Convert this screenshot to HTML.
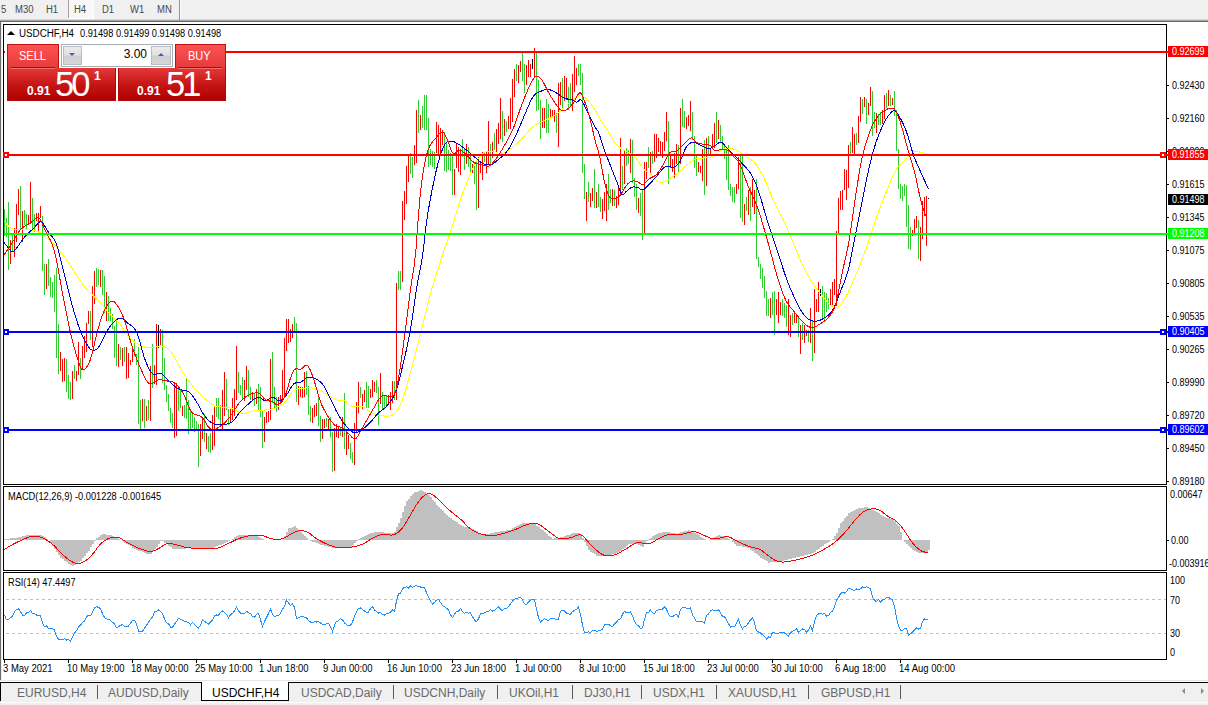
<!DOCTYPE html>
<html><head><meta charset="utf-8"><title>USDCHF,H4</title>
<style>
html,body{margin:0;padding:0;background:#fff;}
body{width:1208px;height:705px;overflow:hidden;position:relative;font-family:"Liberation Sans",sans-serif;}
.abs{position:absolute;}
.t{position:absolute;white-space:nowrap;line-height:1;color:#000;}
.ax{position:absolute;left:1172px;font-size:10px;white-space:nowrap;line-height:10px;height:10px;color:#000;transform:scaleX(0.9);transform-origin:0 50%;margin-top:1px;}
.tick{position:absolute;left:1167px;width:2px;height:1px;background:#000;}
.lab{position:absolute;left:1168px;width:40px;height:11px;color:#fff;white-space:nowrap;}
.lab span{position:absolute;left:4px;top:1px;font-size:10px;line-height:10px;transform:scaleX(0.9);transform-origin:0 50%;}
.hl{position:absolute;left:4px;width:1164px;height:2px;}
.sq{position:absolute;width:2px;height:2px;border-style:solid;border-width:2px;background:#fff;}
.tb{position:absolute;top:3.6px;font-size:10px;color:#484848;line-height:11px;white-space:nowrap;transform:scaleX(0.95);transform-origin:0 50%;}
.tab{position:absolute;top:686px;font-size:12px;color:#6a6a6a;line-height:14px;white-space:nowrap;letter-spacing:0;}
.sep{position:absolute;top:685px;width:1px;height:14px;background:#5a5a5a;}
.dt{position:absolute;top:664px;font-size:10px;line-height:10px;white-space:nowrap;color:#000;transform:scaleX(0.95);transform-origin:0 50%;}
.dtick{position:absolute;top:660px;width:1px;height:3px;background:#000;}
</style></head><body>

<!-- toolbar -->
<div class="abs" style="left:0;top:0;width:1208px;height:19px;background:#f0f0f0"></div>
<div class="abs" style="left:0;top:19px;width:1208px;height:1px;background:#dadada"></div>
<div class="abs" style="left:0;top:20px;width:1208px;height:1px;background:#a4a4a4"></div>
<div class="abs" style="left:0;top:21px;width:1208px;height:1px;background:#696969"></div>
<div class="abs" style="left:69px;top:0;width:25px;height:19px;background:#fff"></div><div class="abs" style="left:69px;top:0;width:24px;height:18px;background:repeating-conic-gradient(#fff 0 25%,#f0f0f0 0 50%) 0 0/2px 2px"></div>
<div class="abs" style="left:68px;top:0;width:1px;height:18px;background:#a0a0a0"></div>
<div class="abs" style="left:179px;top:0;width:1px;height:20px;background:#909090"></div>
<div class="abs" style="left:180px;top:0;width:1px;height:19px;background:#fff"></div>
<span class="tb" style="left:1px">5</span>
<span class="tb" style="left:15px">M30</span>
<span class="tb" style="left:46px">H1</span>
<span class="tb" style="left:74px">H4</span>
<span class="tb" style="left:102px">D1</span>
<span class="tb" style="left:130px">W1</span>
<span class="tb" style="left:157px">MN</span>

<!-- left strip -->
<div class="abs" style="left:0;top:22px;width:1px;height:658px;background:#6c6c6c"></div>
<div class="abs" style="left:1px;top:22px;width:1px;height:658px;background:#ececec"></div>

<!-- frames -->
<div class="abs" style="left:3px;top:24px;width:1162px;height:459px;border:1px solid #000"></div>
<div class="abs" style="left:3px;top:486px;width:1162px;height:83px;border:1px solid #000"></div>
<div class="abs" style="left:3px;top:572px;width:1162px;height:86px;border:1px solid #000"></div>

<!-- RSI dashed levels -->
<div class="abs" style="left:6px;top:599px;width:1160px;height:1px;background:repeating-linear-gradient(90deg,#c0c0c0 0,#c0c0c0 3px,transparent 3px,transparent 6px)"></div>
<div class="abs" style="left:6px;top:633px;width:1160px;height:1px;background:repeating-linear-gradient(90deg,#c0c0c0 0,#c0c0c0 3px,transparent 3px,transparent 6px)"></div>

<svg width="1208" height="705" viewBox="0 0 1208 705" style="position:absolute;left:0;top:0" shape-rendering="crispEdges">
<g>
<path fill="#ff0000" d="M10 240v24h1v-24zM14 228v29h1v-29zM16 204v38h1v-38zM18 189v26h1v-26zM22 211v31h1v-31zM28 215v8h1v-8zM30 182v42h1v-42zM36 213v8h1v-8zM38 213v22h1v-22zM40 206v12h1v-12zM46 264v25h1v-25zM60 352v19h1v-19zM62 359v23h1v-23zM64 358v23h1v-23zM72 371v28h1v-28zM76 371v10h1v-10zM78 342v33h1v-33zM82 346v24h1v-24zM84 336v22h1v-22zM86 323v29h1v-29zM88 311v13h1v-13zM92 286v61h1v-61zM94 271v33h1v-33zM100 270v17h1v-17zM106 292v29h1v-29zM118 344v23h1v-23zM122 348v18h1v-18zM126 347v32h1v-32zM128 353v25h1v-25zM130 360v5h1v-5zM132 349v13h1v-13zM142 399v22h1v-22zM146 406v15h1v-15zM150 366v55h1v-55zM154 365v19h1v-19zM156 324v61h1v-61zM160 329v17h1v-17zM174 383v55h1v-55zM176 383v53h1v-53zM182 406v10h1v-10zM200 424v32h1v-32zM202 418v21h1v-21zM206 433v16h1v-16zM212 415v35h1v-35zM214 405v41h1v-41zM222 390v40h1v-40zM224 372v44h1v-44zM230 408v15h1v-15zM232 398v22h1v-22zM234 389v27h1v-27zM236 346v54h1v-54zM244 380v21h1v-21zM246 366v24h1v-24zM252 392v9h1v-9zM256 389v15h1v-15zM264 417v25h1v-25zM266 412v11h1v-11zM268 411v11h1v-11zM270 359v61h1v-61zM278 397v13h1v-13zM280 395v9h1v-9zM282 370v32h1v-32zM284 338v59h1v-59zM286 319v32h1v-32zM288 319v24h1v-24zM290 329v13h1v-13zM292 324v14h1v-14zM298 386v19h1v-19zM300 387v10h1v-10zM302 387v11h1v-11zM304 372v25h1v-25zM312 408v15h1v-15zM314 405v12h1v-12zM316 403v13h1v-13zM322 419v20h1v-20zM324 419v9h1v-9zM328 419v12h1v-12zM334 428v43h1v-43zM336 424v13h1v-13zM338 426v12h1v-12zM342 417v20h1v-20zM346 432v23h1v-23zM348 435v14h1v-14zM354 423v42h1v-42zM356 402v31h1v-31zM358 382v31h1v-31zM362 394v15h1v-15zM364 390v12h1v-12zM370 389v9h1v-9zM372 380v17h1v-17zM374 382v10h1v-10zM380 373v31h1v-31zM388 395v9h1v-9zM390 392v18h1v-18zM392 381v22h1v-22zM396 283v117h1v-117zM402 201v81h1v-81zM404 191v29h1v-29zM406 166v38h1v-38zM408 154v28h1v-28zM414 145v20h1v-20zM416 110v53h1v-53zM420 115v15h1v-15zM436 122v31h1v-31zM438 125v29h1v-29zM440 128v27h1v-27zM442 130v15h1v-15zM454 169v26h1v-26zM456 144v24h1v-24zM458 147v25h1v-25zM460 149v26h1v-26zM466 144v20h1v-20zM472 164v9h1v-9zM478 157v51h1v-51zM480 163v10h1v-10zM482 152v28h1v-28zM486 152v21h1v-21zM488 121v44h1v-44zM492 142v16h1v-16zM496 129v23h1v-23zM498 123v21h1v-21zM500 98v41h1v-41zM504 119v17h1v-17zM508 116v13h1v-13zM510 98v31h1v-31zM512 79v43h1v-43zM514 69v28h1v-28zM518 65v18h1v-18zM520 61v11h1v-11zM526 65v20h1v-20zM528 60v17h1v-17zM530 64v13h1v-13zM534 48v29h1v-29zM542 108v20h1v-20zM544 108v20h1v-20zM550 109v10h1v-10zM552 110v8h1v-8zM554 110v12h1v-12zM558 83v64h1v-64zM560 82v23h1v-23zM564 76v25h1v-25zM566 78v22h1v-22zM572 74v37h1v-37zM574 56v36h1v-36zM576 68v17h1v-17zM586 192v29h1v-29zM590 193v14h1v-14zM592 188v13h1v-13zM596 192v16h1v-16zM602 199v20h1v-20zM604 192v19h1v-19zM606 184v37h1v-37zM612 189v17h1v-17zM616 196v12h1v-12zM618 185v20h1v-20zM620 138v56h1v-56zM624 151v33h1v-33zM630 139v34h1v-34zM638 198v15h1v-15zM644 162v72h1v-72zM646 162v17h1v-17zM650 152v21h1v-21zM654 134v28h1v-28zM656 134v24h1v-24zM658 138v14h1v-14zM660 141v14h1v-14zM662 142v16h1v-16zM664 132v19h1v-19zM666 112v29h1v-29zM670 155v13h1v-13zM672 159v13h1v-13zM674 153v25h1v-25zM676 144v20h1v-20zM680 108v56h1v-56zM686 117v12h1v-12zM688 115v11h1v-11zM690 101v30h1v-30zM698 162v10h1v-10zM700 166v7h1v-7zM702 149v32h1v-32zM706 138v48h1v-48zM710 149v6h1v-6zM712 134v15h1v-15zM714 123v25h1v-25zM718 120v19h1v-19zM736 184v10h1v-10zM738 157v32h1v-32zM744 204v21h1v-21zM748 190v25h1v-25zM752 179v28h1v-28zM754 190v24h1v-24zM770 298v20h1v-20zM776 299v16h1v-16zM778 292v31h1v-31zM780 302v13h1v-13zM788 299v36h1v-36zM790 315v22h1v-22zM794 312v11h1v-11zM796 315v8h1v-8zM800 325v29h1v-29zM804 325v18h1v-18zM806 330v6h1v-6zM810 308v35h1v-35zM814 289v64h1v-64zM816 299v13h1v-13zM818 282v30h1v-30zM830 289v16h1v-16zM832 282v23h1v-23zM834 279v16h1v-16zM836 231v75h1v-75zM838 198v36h1v-36zM840 191v19h1v-19zM842 190v20h1v-20zM844 169v21h1v-21zM846 170v30h1v-30zM848 145v43h1v-43zM852 127v26h1v-26zM854 134v20h1v-20zM858 116v27h1v-27zM860 97v25h1v-25zM864 97v10h1v-10zM868 103v12h1v-12zM870 87v19h1v-19zM876 113v20h1v-20zM882 110v14h1v-14zM884 95v24h1v-24zM888 90v16h1v-16zM892 98v7h1v-7zM912 230v6h1v-6zM914 219v16h1v-16zM916 216v12h1v-12zM920 227v34h1v-34zM922 201v38h1v-38zM924 197v19h1v-19zM926 196v50h1v-50z"/><path fill="#32cd32" d="M4 209v27h1v-27zM6 218v19h1v-19zM8 202v68h1v-68zM12 235v16h1v-16zM20 186v43h1v-43zM24 210v15h1v-15zM26 214v15h1v-15zM32 198v33h1v-33zM34 214v18h1v-18zM42 216v55h1v-55zM44 264v31h1v-31zM48 259v27h1v-27zM50 277v20h1v-20zM52 282v16h1v-16zM54 275v37h1v-37zM56 268v90h1v-90zM58 324v50h1v-50zM66 359v33h1v-33zM68 375v24h1v-24zM70 382v18h1v-18zM74 365v14h1v-14zM80 358v21h1v-21zM90 311v29h1v-29zM96 268v19h1v-19zM98 269v16h1v-16zM102 270v25h1v-25zM104 276v37h1v-37zM108 296v25h1v-25zM110 308v13h1v-13zM112 314v15h1v-15zM114 326v32h1v-32zM116 320v46h1v-46zM120 347v13h1v-13zM124 347v15h1v-15zM134 339v17h1v-17zM136 354v11h1v-11zM138 347v77h1v-77zM140 400v31h1v-31zM144 399v29h1v-29zM148 400v20h1v-20zM152 344v44h1v-44zM162 330v53h1v-53zM164 358v32h1v-32zM166 385v17h1v-17zM168 394v17h1v-17zM170 408v15h1v-15zM172 413v15h1v-15zM178 387v24h1v-24zM180 389v19h1v-19zM184 405v13h1v-13zM186 379v40h1v-40zM188 400v34h1v-34zM190 409v20h1v-20zM192 414v14h1v-14zM194 417v15h1v-15zM196 421v9h1v-9zM198 424v43h1v-43zM204 414v28h1v-28zM208 436v16h1v-16zM210 433v20h1v-20zM216 398v19h1v-19zM218 398v21h1v-21zM220 405v20h1v-20zM226 379v31h1v-31zM228 409v16h1v-16zM238 372v21h1v-21zM240 385v10h1v-10zM242 377v22h1v-22zM248 370v27h1v-27zM250 387v13h1v-13zM254 393v13h1v-13zM258 384v26h1v-26zM260 387v30h1v-30zM262 411v37h1v-37zM272 352v51h1v-51zM274 387v22h1v-22zM276 397v15h1v-15zM294 317v16h1v-16zM296 323v79h1v-79zM306 371v24h1v-24zM308 386v29h1v-29zM310 406v16h1v-16zM318 395v31h1v-31zM320 416v26h1v-26zM326 418v9h1v-9zM330 417v20h1v-20zM332 432v40h1v-40zM340 428v8h1v-8zM344 393v56h1v-56zM350 443v16h1v-16zM352 452v11h1v-11zM360 387v11h1v-11zM366 382v26h1v-26zM368 386v22h1v-22zM376 380v13h1v-13zM378 387v38h1v-38zM382 392v17h1v-17zM384 395v13h1v-13zM386 395v10h1v-10zM394 381v19h1v-19zM398 271v19h1v-19zM400 271v19h1v-19zM410 153v21h1v-21zM412 157v21h1v-21zM418 100v33h1v-33zM422 106v22h1v-22zM424 95v35h1v-35zM426 95v35h1v-35zM428 118v49h1v-49zM430 149v16h1v-16zM432 151v16h1v-16zM434 152v17h1v-17zM444 132v39h1v-39zM446 143v29h1v-29zM448 150v20h1v-20zM450 153v18h1v-18zM452 154v41h1v-41zM462 139v18h1v-18zM464 148v22h1v-22zM468 147v20h1v-20zM470 155v20h1v-20zM474 163v21h1v-21zM476 162v48h1v-48zM484 152v10h1v-10zM490 144v20h1v-20zM494 133v17h1v-17zM502 111v31h1v-31zM506 121v11h1v-11zM516 64v17h1v-17zM522 51v30h1v-30zM524 64v29h1v-29zM536 53v58h1v-58zM538 80v30h1v-30zM540 100v39h1v-39zM546 99v34h1v-34zM548 104v29h1v-29zM556 113v20h1v-20zM562 78v32h1v-32zM568 87v23h1v-23zM570 83v24h1v-24zM578 64v12h1v-12zM580 64v21h1v-21zM582 73v100h1v-100zM584 164v35h1v-35zM588 182v20h1v-20zM594 169v39h1v-39zM598 184v23h1v-23zM600 197v15h1v-15zM608 174v36h1v-36zM610 189v14h1v-14zM614 190v16h1v-16zM622 166v24h1v-24zM626 148v18h1v-18zM628 150v14h1v-14zM632 140v43h1v-43zM634 178v19h1v-19zM636 184v26h1v-26zM640 193v23h1v-23zM642 190v50h1v-50zM648 147v21h1v-21zM652 151v13h1v-13zM668 121v63h1v-63zM678 145v27h1v-27zM682 99v28h1v-28zM684 111v17h1v-17zM692 112v28h1v-28zM694 136v32h1v-32zM696 154v22h1v-22zM704 140v55h1v-55zM708 136v19h1v-19zM716 112v31h1v-31zM720 125v18h1v-18zM722 136v14h1v-14zM724 146v13h1v-13zM726 147v33h1v-33zM728 145v45h1v-45zM730 184v12h1v-12zM732 187v15h1v-15zM734 187v16h1v-16zM740 156v62h1v-62zM742 156v66h1v-66zM746 197v14h1v-14zM750 187v34h1v-34zM756 179v80h1v-80zM758 257v10h1v-10zM760 264v15h1v-15zM762 268v20h1v-20zM764 276v22h1v-22zM766 291v25h1v-25zM768 299v17h1v-17zM772 292v23h1v-23zM774 291v44h1v-44zM782 299v17h1v-17zM784 303v15h1v-15zM786 305v22h1v-22zM792 313v12h1v-12zM798 316v21h1v-21zM802 323v17h1v-17zM808 330v12h1v-12zM812 320v41h1v-41zM822 286v33h1v-33zM824 292v28h1v-28zM826 293v19h1v-19zM828 298v11h1v-11zM850 142v14h1v-14zM856 133v12h1v-12zM862 99v15h1v-15zM866 99v25h1v-25zM872 91v45h1v-45zM874 112v16h1v-16zM878 114v11h1v-11zM880 112v13h1v-13zM886 93v15h1v-15zM890 95v11h1v-11zM894 91v25h1v-25zM896 110v41h1v-41zM898 149v40h1v-40zM900 184v15h1v-15zM902 186v15h1v-15zM904 184v12h1v-12zM906 185v42h1v-42zM908 205v44h1v-44zM910 227v23h1v-23zM918 220v39h1v-39z"/><path fill="#000000" d="M158 325v23h1v-23zM532 59v10h1v-10zM820 289v7h1v-7zM928 198v1h1v-1z"/>
<polyline fill="none" stroke="#ffff00" stroke-width="1" points="4.0,221.0 6.0,223.5 8.0,225.6 10.0,227.5 12.0,228.8 14.0,229.4 16.0,229.6 18.0,229.8 20.0,229.8 22.0,229.8 24.0,229.7 26.0,229.7 28.0,229.7 30.0,229.9 32.0,230.1 34.0,230.5 36.0,231.0 38.0,231.7 40.0,232.7 42.0,234.0 44.0,235.4 46.0,237.0 48.0,238.6 50.0,240.4 52.0,242.4 54.0,244.4 56.0,246.5 58.0,248.8 60.0,251.3 62.0,253.8 64.0,256.5 66.0,259.2 68.0,262.0 70.0,264.9 72.0,267.9 74.0,271.0 76.0,274.2 78.0,277.3 80.0,280.4 82.0,283.3 84.0,286.1 86.0,288.6 88.0,290.8 90.0,292.8 92.0,294.7 94.0,296.5 96.0,298.3 98.0,300.3 100.0,302.4 102.0,304.8 104.0,307.2 106.0,309.6 108.0,311.9 110.0,314.1 112.0,316.0 114.0,317.9 116.0,319.8 118.0,321.9 120.0,324.2 122.0,327.0 124.0,330.0 126.0,332.9 128.0,335.6 130.0,338.0 132.0,339.9 134.0,341.6 136.0,343.0 138.0,344.2 140.0,345.2 142.0,346.1 144.0,346.7 146.0,347.2 148.0,347.5 150.0,347.7 152.0,347.6 154.0,347.2 156.0,346.7 158.0,346.2 160.0,345.9 162.0,346.0 164.0,346.6 166.0,347.5 168.0,348.9 170.0,350.8 172.0,353.4 174.0,356.5 176.0,360.0 178.0,363.8 180.0,367.5 182.0,371.1 184.0,374.3 186.0,377.3 188.0,380.1 190.0,382.8 192.0,385.3 194.0,387.7 196.0,390.0 198.0,392.0 200.0,394.0 202.0,396.0 204.0,397.8 206.0,399.6 208.0,401.2 210.0,402.8 212.0,404.3 214.0,405.7 216.0,406.7 218.0,407.0 220.0,406.9 222.0,407.0 224.0,407.2 226.0,407.4 228.0,407.6 230.0,408.0 232.0,408.5 234.0,409.4 236.0,410.5 238.0,411.8 240.0,412.8 242.0,413.5 244.0,413.6 246.0,413.2 248.0,412.5 250.0,411.8 252.0,411.2 254.0,410.8 256.0,410.7 258.0,410.6 260.0,410.5 262.0,410.4 264.0,410.2 266.0,409.9 268.0,409.6 270.0,409.3 272.0,408.9 274.0,408.4 276.0,407.8 278.0,407.0 280.0,405.9 282.0,404.6 284.0,402.9 286.0,400.9 288.0,398.2 290.0,395.0 292.0,392.1 294.0,390.4 296.0,389.4 298.0,388.8 300.0,388.4 302.0,388.2 304.0,388.1 306.0,388.0 308.0,387.9 310.0,387.9 312.0,388.0 314.0,388.3 316.0,388.7 318.0,389.4 320.0,390.4 322.0,391.6 324.0,392.8 326.0,394.1 328.0,395.2 330.0,396.4 332.0,397.5 334.0,398.7 336.0,399.6 338.0,400.3 340.0,400.4 342.0,400.4 344.0,400.7 346.0,401.6 348.0,403.2 350.0,404.9 352.0,406.0 354.0,406.4 356.0,406.4 358.0,406.2 360.0,406.2 362.0,406.5 364.0,407.4 366.0,408.8 368.0,410.4 370.0,411.9 372.0,413.2 374.0,414.1 376.0,414.7 378.0,415.2 380.0,415.6 382.0,415.9 384.0,416.0 386.0,416.0 388.0,416.1 390.0,415.9 392.0,415.3 394.0,414.0 396.0,412.0 398.0,409.2 400.0,405.5 402.0,400.7 404.0,394.9 406.0,388.5 408.0,381.5 410.0,374.3 412.0,367.0 414.0,359.3 416.0,351.3 418.0,343.2 420.0,335.2 422.0,327.2 424.0,319.0 426.0,310.9 428.0,302.9 430.0,295.4 432.0,288.4 434.0,281.7 436.0,275.2 438.0,268.9 440.0,262.7 442.0,256.5 444.0,250.4 446.0,244.6 448.0,238.8 450.0,233.0 452.0,227.0 454.0,220.7 456.0,214.2 458.0,207.7 460.0,201.4 462.0,195.4 464.0,189.9 466.0,184.6 468.0,179.6 470.0,174.7 472.0,169.9 474.0,165.5 476.0,162.0 478.0,159.2 480.0,156.6 482.0,154.4 484.0,152.7 486.0,151.5 488.0,151.0 490.0,151.1 492.0,151.3 494.0,151.6 496.0,152.1 498.0,152.9 500.0,153.4 502.0,153.5 504.0,153.0 506.0,152.0 508.0,150.7 510.0,149.3 512.0,147.8 514.0,146.1 516.0,144.4 518.0,142.6 520.0,140.7 522.0,138.7 524.0,136.5 526.0,134.1 528.0,131.7 530.0,129.4 532.0,127.4 534.0,125.8 536.0,124.5 538.0,123.6 540.0,122.8 542.0,122.0 544.0,121.1 546.0,120.1 548.0,119.2 550.0,118.3 552.0,117.3 554.0,116.2 556.0,114.9 558.0,113.3 560.0,111.5 562.0,109.6 564.0,107.7 566.0,105.9 568.0,104.1 570.0,102.3 572.0,100.5 574.0,98.8 576.0,97.3 578.0,96.2 580.0,95.7 582.0,95.9 584.0,96.8 586.0,98.4 588.0,100.4 590.0,102.9 592.0,105.6 594.0,108.5 596.0,111.6 598.0,115.0 600.0,118.7 602.0,122.1 604.0,125.2 606.0,128.1 608.0,131.1 610.0,134.4 612.0,138.1 614.0,141.6 616.0,144.2 618.0,146.1 620.0,147.6 622.0,149.0 624.0,150.1 626.0,150.9 628.0,151.8 630.0,153.1 632.0,154.4 634.0,156.1 636.0,158.1 638.0,160.9 640.0,164.1 642.0,167.1 644.0,169.4 646.0,171.3 648.0,173.0 650.0,174.6 652.0,176.3 654.0,178.1 656.0,180.0 658.0,181.6 660.0,182.7 662.0,183.0 664.0,182.2 666.0,180.8 668.0,179.5 670.0,178.3 672.0,177.2 674.0,175.9 676.0,174.5 678.0,173.0 680.0,171.2 682.0,169.4 684.0,167.6 686.0,165.8 688.0,164.1 690.0,162.4 692.0,160.8 694.0,159.4 696.0,158.6 698.0,158.2 700.0,158.1 702.0,158.1 704.0,158.0 706.0,157.9 708.0,157.9 710.0,157.6 712.0,156.7 714.0,155.2 716.0,153.5 718.0,152.2 720.0,151.0 722.0,149.9 724.0,149.1 726.0,148.6 728.0,148.4 730.0,148.5 732.0,148.8 734.0,149.2 736.0,149.9 738.0,150.8 740.0,152.1 742.0,153.7 744.0,155.4 746.0,156.8 748.0,157.9 750.0,159.0 752.0,160.3 754.0,162.1 756.0,164.6 758.0,167.4 760.0,170.7 762.0,174.3 764.0,178.2 766.0,182.5 768.0,187.3 770.0,192.4 772.0,197.4 774.0,202.0 776.0,206.1 778.0,210.0 780.0,213.7 782.0,217.5 784.0,221.6 786.0,226.0 788.0,230.6 790.0,235.3 792.0,240.0 794.0,244.7 796.0,249.5 798.0,254.4 800.0,259.2 802.0,263.8 804.0,268.0 806.0,271.9 808.0,275.5 810.0,278.9 812.0,282.1 814.0,285.1 816.0,287.9 818.0,290.4 820.0,292.9 822.0,295.4 824.0,297.9 826.0,300.5 828.0,303.1 830.0,305.2 832.0,306.6 834.0,307.5 836.0,307.7 838.0,306.9 840.0,305.2 842.0,302.9 844.0,300.0 846.0,296.6 848.0,292.7 850.0,288.3 852.0,283.6 854.0,278.9 856.0,274.4 858.0,270.0 860.0,264.8 862.0,259.6 864.0,254.2 866.0,248.8 868.0,243.1 870.0,237.3 872.0,231.3 874.0,225.2 876.0,219.2 878.0,213.4 880.0,207.9 882.0,202.7 884.0,197.6 886.0,192.6 888.0,187.8 890.0,182.9 892.0,178.2 894.0,173.8 896.0,170.0 898.0,167.1 900.0,164.8 902.0,162.9 904.0,160.9 906.0,158.8 908.0,156.7 910.0,154.8 912.0,153.1 914.0,151.7 916.0,151.0 918.0,151.3 920.0,152.3 922.0,152.9 924.0,153.0 926.0,153.0 927.0,153.0"/>
<polyline fill="none" stroke="#0000cd" stroke-width="1" points="4.0,242.5 6.0,245.0 8.0,247.6 10.0,249.9 12.0,251.7 14.0,251.1 16.0,248.8 18.0,246.2 20.0,243.3 22.0,240.5 24.0,237.8 26.0,235.4 28.0,233.4 30.0,231.5 32.0,229.8 34.0,228.0 36.0,225.7 38.0,223.2 40.0,221.7 42.0,222.3 44.0,224.7 46.0,228.0 48.0,231.5 50.0,234.3 52.0,236.5 54.0,239.0 56.0,243.0 58.0,249.1 60.0,256.7 62.0,264.8 64.0,272.6 66.0,280.8 68.0,289.1 70.0,297.2 72.0,304.6 74.0,311.6 76.0,318.3 78.0,324.4 80.0,330.0 82.0,334.9 84.0,339.2 86.0,342.9 88.0,346.2 90.0,348.8 92.0,350.1 94.0,350.4 96.0,349.7 98.0,347.9 100.0,344.9 102.0,341.3 104.0,337.3 106.0,333.3 108.0,329.6 110.0,326.6 112.0,324.0 114.0,321.8 116.0,320.0 118.0,318.6 120.0,318.2 122.0,318.6 124.0,319.7 126.0,321.4 128.0,323.3 130.0,324.7 132.0,326.1 134.0,327.9 136.0,330.8 138.0,335.6 140.0,342.2 142.0,349.6 144.0,356.6 146.0,362.3 148.0,366.8 150.0,370.4 152.0,373.1 154.0,374.5 156.0,374.4 158.0,373.6 160.0,373.2 162.0,374.1 164.0,375.7 166.0,377.8 168.0,380.0 170.0,382.1 172.0,383.9 174.0,385.6 176.0,387.3 178.0,388.6 180.0,389.5 182.0,390.0 184.0,390.2 186.0,390.6 188.0,391.4 190.0,392.8 192.0,395.1 194.0,398.0 196.0,401.1 198.0,404.3 200.0,408.1 202.0,411.8 204.0,415.0 206.0,417.6 208.0,419.8 210.0,421.7 212.0,423.0 214.0,423.9 216.0,424.4 218.0,424.6 220.0,424.7 222.0,424.6 224.0,424.5 226.0,424.3 228.0,423.9 230.0,423.2 232.0,422.0 234.0,420.1 236.0,417.4 238.0,414.5 240.0,412.0 242.0,409.9 244.0,408.0 246.0,406.1 248.0,404.4 250.0,402.6 252.0,400.8 254.0,399.1 256.0,397.8 258.0,397.0 260.0,397.5 262.0,399.0 264.0,400.4 266.0,400.8 268.0,399.6 270.0,397.9 272.0,397.0 274.0,397.7 276.0,399.2 278.0,400.5 280.0,400.8 282.0,399.8 284.0,398.0 286.0,395.7 288.0,392.7 290.0,389.2 292.0,385.9 294.0,383.7 296.0,382.7 298.0,382.5 300.0,382.3 302.0,381.4 304.0,379.9 306.0,378.2 308.0,377.1 310.0,377.1 312.0,377.4 314.0,378.0 316.0,378.8 318.0,380.0 320.0,381.5 322.0,383.3 324.0,386.2 326.0,390.0 328.0,394.2 330.0,398.2 332.0,402.2 334.0,406.3 336.0,410.4 338.0,414.2 340.0,417.6 342.0,420.7 344.0,423.4 346.0,425.9 348.0,428.2 350.0,430.2 352.0,431.8 354.0,432.8 356.0,432.8 358.0,432.1 360.0,431.0 362.0,429.7 364.0,428.1 366.0,426.5 368.0,424.7 370.0,422.7 372.0,420.4 374.0,418.0 376.0,415.6 378.0,413.5 380.0,411.7 382.0,410.2 384.0,408.7 386.0,406.8 388.0,404.5 390.0,402.0 392.0,399.2 394.0,395.7 396.0,391.1 398.0,384.7 400.0,376.9 402.0,368.6 404.0,360.3 406.0,351.6 408.0,342.3 410.0,332.0 412.0,319.8 414.0,306.0 416.0,292.3 418.0,280.3 420.0,270.2 422.0,259.5 424.0,244.5 426.0,226.1 428.0,212.3 430.0,200.8 432.0,190.5 434.0,180.7 436.0,171.6 438.0,163.4 440.0,156.4 442.0,150.5 444.0,145.8 446.0,142.7 448.0,141.3 450.0,141.0 452.0,141.1 454.0,141.8 456.0,142.8 458.0,144.0 460.0,145.2 462.0,146.6 464.0,148.0 466.0,149.5 468.0,151.1 470.0,152.9 472.0,154.7 474.0,156.4 476.0,158.2 478.0,160.1 480.0,161.7 482.0,163.0 484.0,163.9 486.0,164.6 488.0,165.0 490.0,164.9 492.0,164.3 494.0,163.1 496.0,161.5 498.0,159.8 500.0,158.2 502.0,156.6 504.0,154.8 506.0,152.7 508.0,150.0 510.0,146.8 512.0,143.1 514.0,139.2 516.0,135.0 518.0,130.6 520.0,125.9 522.0,121.1 524.0,116.4 526.0,111.7 528.0,107.0 530.0,102.4 532.0,98.4 534.0,95.4 536.0,93.5 538.0,92.5 540.0,91.6 542.0,90.8 544.0,90.1 546.0,89.7 548.0,89.6 550.0,89.8 552.0,90.5 554.0,91.5 556.0,92.6 558.0,93.9 560.0,95.4 562.0,96.9 564.0,98.0 566.0,98.7 568.0,99.1 570.0,99.3 572.0,99.8 574.0,100.7 576.0,102.1 578.0,101.8 580.0,99.5 582.0,100.8 584.0,104.5 586.0,108.9 588.0,113.0 590.0,117.1 592.0,121.2 594.0,125.1 596.0,128.5 598.0,131.1 600.0,136.5 602.0,142.9 604.0,149.0 606.0,154.4 608.0,159.5 610.0,164.5 612.0,169.6 614.0,174.7 616.0,179.7 618.0,184.8 620.0,190.5 622.0,194.4 624.0,194.0 626.0,191.7 628.0,190.1 630.0,188.4 632.0,187.1 634.0,186.8 636.0,187.1 638.0,187.6 640.0,188.8 642.0,189.9 644.0,189.3 646.0,187.6 648.0,185.5 650.0,183.5 652.0,181.4 654.0,179.2 656.0,177.0 658.0,174.6 660.0,172.0 662.0,169.6 664.0,167.7 666.0,166.6 668.0,166.5 670.0,166.9 672.0,167.2 674.0,167.1 676.0,166.2 678.0,164.3 680.0,161.5 682.0,157.0 684.0,151.7 686.0,147.6 688.0,145.0 690.0,143.2 692.0,142.2 694.0,142.0 696.0,142.8 698.0,144.0 700.0,145.0 702.0,146.0 704.0,147.1 706.0,148.0 708.0,148.5 710.0,148.4 712.0,147.4 714.0,146.2 716.0,144.9 718.0,143.3 720.0,142.1 722.0,142.5 724.0,144.6 726.0,147.2 728.0,149.3 730.0,151.2 732.0,153.1 734.0,155.0 736.0,157.0 738.0,159.0 740.0,161.1 742.0,163.4 744.0,165.5 746.0,167.6 748.0,169.8 750.0,172.5 752.0,175.7 754.0,179.6 756.0,184.2 758.0,189.6 760.0,195.8 762.0,202.5 764.0,209.5 766.0,216.4 768.0,222.9 770.0,229.0 772.0,235.0 774.0,240.9 776.0,246.8 778.0,252.8 780.0,259.0 782.0,265.3 784.0,271.5 786.0,277.3 788.0,282.6 790.0,287.6 792.0,292.3 794.0,296.8 796.0,301.0 798.0,305.0 800.0,308.7 802.0,312.0 804.0,314.8 806.0,317.1 808.0,318.8 810.0,320.0 812.0,320.8 814.0,321.1 816.0,321.1 818.0,320.8 820.0,320.2 822.0,319.3 824.0,318.2 826.0,317.0 828.0,315.5 830.0,313.6 832.0,311.1 834.0,307.7 836.0,303.3 838.0,298.1 840.0,292.6 842.0,287.5 844.0,282.7 846.0,277.4 848.0,271.1 850.0,262.6 852.0,252.2 854.0,241.7 856.0,231.7 858.0,221.7 860.0,211.7 862.0,201.7 864.0,191.7 866.0,181.8 868.0,172.7 870.0,164.0 872.0,155.9 874.0,148.7 876.0,142.4 878.0,136.8 880.0,131.8 882.0,127.1 884.0,122.9 886.0,119.3 888.0,116.3 890.0,113.7 892.0,111.5 894.0,110.5 896.0,111.3 898.0,114.1 900.0,117.7 902.0,121.5 904.0,125.6 906.0,130.5 908.0,136.3 910.0,143.3 912.0,150.5 914.0,156.6 916.0,161.6 918.0,166.2 920.0,170.5 922.0,174.9 924.0,179.4 926.0,183.7 928.0,188.1 928.4,189.0"/>
<polyline fill="none" stroke="#ff0000" stroke-width="1" points="4.0,255.0 6.0,252.0 8.0,249.0 10.0,246.1 12.0,243.0 14.0,239.7 16.0,236.2 18.0,232.8 20.0,230.1 22.0,228.1 24.0,226.5 26.0,225.4 28.0,224.3 30.0,223.2 32.0,221.7 34.0,219.9 36.0,218.3 38.0,217.5 40.0,218.7 42.0,223.0 44.0,228.0 46.0,232.0 48.0,235.7 50.0,239.5 52.0,244.1 54.0,250.0 56.0,257.9 58.0,268.1 60.0,279.5 62.0,290.8 64.0,301.0 66.0,311.2 68.0,321.2 70.0,330.5 72.0,339.0 74.0,346.7 76.0,353.6 78.0,359.9 80.0,365.7 82.0,369.6 84.0,369.7 86.0,368.0 88.0,365.2 90.0,360.6 92.0,353.9 94.0,345.7 96.0,337.1 98.0,329.1 100.0,322.3 102.0,316.3 104.0,311.2 106.0,307.1 108.0,303.9 110.0,301.8 112.0,301.0 114.0,301.7 116.0,303.7 118.0,306.4 120.0,309.8 122.0,314.0 124.0,319.1 126.0,325.1 128.0,332.1 130.0,339.4 132.0,346.1 134.0,351.8 136.0,357.1 138.0,362.2 140.0,367.0 142.0,371.6 144.0,375.9 146.0,379.9 148.0,382.7 150.0,383.9 152.0,383.7 154.0,382.5 156.0,381.0 158.0,380.0 160.0,379.9 162.0,380.0 164.0,380.3 166.0,380.7 168.0,381.1 170.0,381.5 172.0,381.8 174.0,382.3 176.0,384.0 178.0,386.2 180.0,388.7 182.0,391.5 184.0,394.9 186.0,399.4 188.0,404.7 190.0,409.5 192.0,412.6 194.0,414.1 196.0,414.8 198.0,415.2 200.0,415.9 202.0,417.3 204.0,419.9 206.0,423.2 208.0,426.4 210.0,428.7 212.0,430.0 214.0,429.7 216.0,428.9 218.0,427.8 220.0,426.5 222.0,425.0 224.0,423.3 226.0,421.4 228.0,419.2 230.0,416.7 232.0,413.9 234.0,410.8 236.0,407.7 238.0,404.6 240.0,402.0 242.0,399.8 244.0,398.1 246.0,396.7 248.0,395.6 250.0,394.6 252.0,393.7 254.0,393.1 256.0,392.8 258.0,393.0 260.0,394.2 262.0,396.2 264.0,398.4 266.0,399.9 268.0,400.7 270.0,401.1 272.0,401.6 274.0,402.6 276.0,404.3 278.0,404.7 280.0,403.5 282.0,401.5 284.0,398.4 286.0,393.6 288.0,386.7 290.0,379.6 292.0,374.0 294.0,370.1 296.0,368.6 298.0,368.9 300.0,369.5 302.0,368.8 304.0,366.5 306.0,364.9 308.0,365.9 310.0,369.5 312.0,374.5 314.0,380.1 316.0,386.8 318.0,393.8 320.0,400.2 322.0,405.4 324.0,409.5 326.0,413.2 328.0,416.5 330.0,419.4 332.0,422.0 334.0,424.4 336.0,426.2 338.0,426.8 340.0,427.0 342.0,427.7 344.0,429.3 346.0,431.3 348.0,433.3 350.0,435.2 352.0,437.4 354.0,439.0 356.0,438.6 358.0,436.0 360.0,432.3 362.0,428.6 364.0,425.1 366.0,421.6 368.0,418.1 370.0,414.6 372.0,411.1 374.0,407.7 376.0,404.1 378.0,400.6 380.0,397.7 382.0,395.8 384.0,395.3 386.0,395.6 388.0,396.3 390.0,396.8 392.0,396.5 394.0,395.0 396.0,390.1 398.0,381.2 400.0,369.4 402.0,355.5 404.0,340.3 406.0,325.0 408.0,309.4 410.0,293.6 412.0,279.3 414.0,267.2 416.0,249.5 418.0,221.3 420.0,196.7 422.0,179.9 424.0,166.9 426.0,156.9 428.0,150.3 430.0,145.5 432.0,142.4 434.0,140.1 436.0,137.8 438.0,135.3 440.0,133.2 442.0,132.1 444.0,133.1 446.0,136.9 448.0,141.4 450.0,147.2 452.0,152.3 454.0,154.1 456.0,152.7 458.0,150.6 460.0,150.1 462.0,151.1 464.0,152.7 466.0,154.5 468.0,156.4 470.0,158.6 472.0,160.8 474.0,162.3 476.0,163.2 478.0,163.9 480.0,164.3 482.0,164.8 484.0,165.5 486.0,166.1 488.0,166.3 490.0,165.5 492.0,163.8 494.0,161.6 496.0,159.0 498.0,156.2 500.0,153.0 502.0,149.7 504.0,146.2 506.0,142.7 508.0,139.2 510.0,135.4 512.0,131.3 514.0,126.5 516.0,121.1 518.0,115.4 520.0,109.6 522.0,104.2 524.0,99.1 526.0,94.1 528.0,89.3 530.0,85.0 532.0,81.1 534.0,77.8 536.0,76.0 538.0,76.1 540.0,77.7 542.0,80.3 544.0,83.6 546.0,87.4 548.0,91.4 550.0,95.0 552.0,98.3 554.0,101.6 556.0,104.6 558.0,107.3 560.0,109.5 562.0,110.8 564.0,111.0 566.0,110.1 568.0,108.7 570.0,106.8 572.0,104.7 574.0,102.1 576.0,98.2 578.0,94.6 580.0,92.5 582.0,94.6 584.0,99.6 586.0,105.2 588.0,111.6 590.0,118.7 592.0,127.1 594.0,135.9 596.0,143.6 598.0,150.1 600.0,158.1 602.0,169.2 604.0,179.7 606.0,187.9 608.0,194.2 610.0,197.4 612.0,198.4 614.0,198.5 616.0,198.2 618.0,197.2 620.0,195.5 622.0,192.7 624.0,189.3 626.0,186.0 628.0,183.7 630.0,182.1 632.0,181.1 634.0,180.9 636.0,181.3 638.0,182.0 640.0,183.5 642.0,184.9 644.0,184.2 646.0,182.2 648.0,179.9 650.0,178.2 652.0,177.2 654.0,176.4 656.0,175.0 658.0,172.6 660.0,169.7 662.0,166.5 664.0,163.1 666.0,159.1 668.0,155.3 670.0,152.4 672.0,151.3 674.0,151.4 676.0,151.3 678.0,150.1 680.0,148.1 682.0,146.0 684.0,144.0 686.0,142.0 688.0,139.9 690.0,138.3 692.0,137.7 694.0,139.8 696.0,142.0 698.0,142.9 700.0,143.5 702.0,144.0 704.0,144.5 706.0,144.7 708.0,144.8 710.0,145.3 712.0,147.1 714.0,150.2 716.0,151.1 718.0,150.5 720.0,149.5 722.0,149.0 724.0,149.1 726.0,149.5 728.0,150.4 730.0,151.8 732.0,154.1 734.0,156.7 736.0,159.1 738.0,161.3 740.0,164.5 742.0,169.3 744.0,174.8 746.0,180.4 748.0,185.7 750.0,190.4 752.0,194.7 754.0,199.1 756.0,203.8 758.0,209.1 760.0,215.1 762.0,221.6 764.0,228.4 766.0,235.4 768.0,242.4 770.0,249.8 772.0,257.4 774.0,265.0 776.0,272.2 778.0,279.0 780.0,285.2 782.0,291.1 784.0,296.3 786.0,300.7 788.0,304.1 790.0,306.7 792.0,309.0 794.0,311.4 796.0,314.0 798.0,316.5 800.0,319.0 802.0,321.2 804.0,323.2 806.0,324.9 808.0,326.3 810.0,327.2 812.0,327.6 814.0,327.3 816.0,326.4 818.0,325.2 820.0,323.9 822.0,322.6 824.0,321.3 826.0,319.8 828.0,317.9 830.0,315.5 832.0,312.6 834.0,308.7 836.0,303.0 838.0,294.6 840.0,284.4 842.0,273.9 844.0,264.6 846.0,256.0 848.0,246.6 850.0,234.9 852.0,221.2 854.0,206.8 856.0,193.4 858.0,180.6 860.0,168.4 862.0,158.0 864.0,149.7 866.0,142.8 868.0,136.8 870.0,131.3 872.0,126.3 874.0,122.1 876.0,118.7 878.0,116.1 880.0,114.0 882.0,112.4 884.0,111.0 886.0,109.8 888.0,108.8 890.0,108.2 892.0,108.0 894.0,108.6 896.0,111.0 898.0,115.6 900.0,121.3 902.0,127.8 904.0,135.0 906.0,142.6 908.0,150.0 910.0,156.8 912.0,163.3 914.0,170.2 916.0,178.2 918.0,187.7 920.0,197.3 922.0,205.4 924.0,211.3 926.0,216.2 926.5,217.5"/>
</g>
<g><path fill="#c0c0c0" d="M4 539h2v1h-2zM6 539h2v1h-2zM8 539h2v1h-2zM10 538h2v2h-2zM12 538h2v2h-2zM14 538h2v2h-2zM16 538h2v2h-2zM18 537h2v3h-2zM20 537h2v3h-2zM22 536h2v4h-2zM24 536h2v4h-2zM26 535h2v5h-2zM28 535h2v5h-2zM30 535h2v5h-2zM32 535h2v5h-2zM34 535h2v5h-2zM36 535h2v5h-2zM38 535h2v5h-2zM40 535h2v5h-2zM42 536h2v4h-2zM44 537h2v3h-2zM46 539h2v1h-2zM50 540h2v3h-2zM52 540h2v6h-2zM54 540h2v9h-2zM56 540h2v12h-2zM58 540h2v15h-2zM60 540h2v18h-2zM62 540h2v19h-2zM64 540h2v21h-2zM66 540h2v22h-2zM68 540h2v24h-2zM70 540h2v25h-2zM72 540h2v26h-2zM74 540h2v25h-2zM76 540h2v23h-2zM78 540h2v22h-2zM80 540h2v21h-2zM82 540h2v18h-2zM84 540h2v16h-2zM86 540h2v13h-2zM88 540h2v11h-2zM90 540h2v7h-2zM92 540h2v4h-2zM94 540h2v1h-2zM96 538h2v2h-2zM98 537h2v3h-2zM100 535h2v5h-2zM102 534h2v6h-2zM104 534h2v6h-2zM106 535h2v5h-2zM108 535h2v5h-2zM110 535h2v5h-2zM112 536h2v4h-2zM114 537h2v3h-2zM116 538h2v2h-2zM118 539h2v1h-2zM122 540h2v1h-2zM124 540h2v3h-2zM126 540h2v4h-2zM128 540h2v5h-2zM130 540h2v6h-2zM132 540h2v8h-2zM134 540h2v9h-2zM136 540h2v10h-2zM138 540h2v11h-2zM140 540h2v11h-2zM142 540h2v12h-2zM144 540h2v13h-2zM146 540h2v14h-2zM148 540h2v14h-2zM150 540h2v14h-2zM152 540h2v11h-2zM154 540h2v9h-2zM156 540h2v7h-2zM158 540h2v4h-2zM160 540h2v1h-2zM162 540h2v1h-2zM164 540h2v3h-2zM166 540h2v4h-2zM168 540h2v6h-2zM170 540h2v7h-2zM172 540h2v9h-2zM174 540h2v9h-2zM176 540h2v9h-2zM178 540h2v9h-2zM180 540h2v9h-2zM182 540h2v9h-2zM184 540h2v9h-2zM186 540h2v8h-2zM188 540h2v8h-2zM190 540h2v8h-2zM192 540h2v8h-2zM194 540h2v8h-2zM196 540h2v8h-2zM198 540h2v8h-2zM200 540h2v8h-2zM202 540h2v8h-2zM204 540h2v8h-2zM206 540h2v8h-2zM208 540h2v8h-2zM210 540h2v8h-2zM212 540h2v8h-2zM214 540h2v7h-2zM216 540h2v6h-2zM218 540h2v5h-2zM220 540h2v5h-2zM222 540h2v4h-2zM224 540h2v3h-2zM226 540h2v2h-2zM228 540h2v1h-2zM232 539h2v1h-2zM234 537h2v3h-2zM236 536h2v4h-2zM238 535h2v5h-2zM240 535h2v5h-2zM242 535h2v5h-2zM244 535h2v5h-2zM246 535h2v5h-2zM248 535h2v5h-2zM250 535h2v5h-2zM252 535h2v5h-2zM254 535h2v5h-2zM256 536h2v4h-2zM258 537h2v3h-2zM260 538h2v2h-2zM262 539h2v1h-2zM284 536h2v4h-2zM286 532h2v8h-2zM288 528h2v12h-2zM290 528h2v12h-2zM292 527h2v13h-2zM294 526h2v14h-2zM296 528h2v12h-2zM298 530h2v10h-2zM300 532h2v8h-2zM302 534h2v6h-2zM304 536h2v4h-2zM306 538h2v2h-2zM310 540h2v1h-2zM312 540h2v2h-2zM314 540h2v2h-2zM316 540h2v3h-2zM318 540h2v4h-2zM320 540h2v5h-2zM322 540h2v5h-2zM324 540h2v6h-2zM326 540h2v6h-2zM328 540h2v7h-2zM330 540h2v7h-2zM332 540h2v8h-2zM334 540h2v8h-2zM336 540h2v8h-2zM338 540h2v8h-2zM340 540h2v8h-2zM342 540h2v8h-2zM344 540h2v8h-2zM346 540h2v8h-2zM348 540h2v8h-2zM350 540h2v7h-2zM352 540h2v5h-2zM354 540h2v3h-2zM356 540h2v1h-2zM358 539h2v1h-2zM360 538h2v2h-2zM362 537h2v3h-2zM364 536h2v4h-2zM366 535h2v5h-2zM368 534h2v6h-2zM370 533h2v7h-2zM372 533h2v7h-2zM374 532h2v8h-2zM376 532h2v8h-2zM378 532h2v8h-2zM380 532h2v8h-2zM382 532h2v8h-2zM384 533h2v7h-2zM386 533h2v7h-2zM388 533h2v7h-2zM390 533h2v7h-2zM392 533h2v7h-2zM394 532h2v8h-2zM396 527h2v13h-2zM398 523h2v17h-2zM400 518h2v22h-2zM402 512h2v28h-2zM404 506h2v34h-2zM406 501h2v39h-2zM408 499h2v41h-2zM410 496h2v44h-2zM412 494h2v46h-2zM414 492h2v48h-2zM416 492h2v48h-2zM418 491h2v49h-2zM420 490h2v50h-2zM422 491h2v49h-2zM424 492h2v48h-2zM426 494h2v46h-2zM428 495h2v45h-2zM430 497h2v43h-2zM432 500h2v40h-2zM434 502h2v38h-2zM436 505h2v35h-2zM438 507h2v33h-2zM440 509h2v31h-2zM442 511h2v29h-2zM444 513h2v27h-2zM446 515h2v25h-2zM448 517h2v23h-2zM450 518h2v22h-2zM452 520h2v20h-2zM454 521h2v19h-2zM456 522h2v18h-2zM458 524h2v16h-2zM460 525h2v15h-2zM462 526h2v14h-2zM464 527h2v13h-2zM466 527h2v13h-2zM468 528h2v12h-2zM470 529h2v11h-2zM472 529h2v11h-2zM474 530h2v10h-2zM476 531h2v9h-2zM478 533h2v7h-2zM480 534h2v6h-2zM482 535h2v5h-2zM484 534h2v6h-2zM486 534h2v6h-2zM488 534h2v6h-2zM490 533h2v7h-2zM492 533h2v7h-2zM494 532h2v8h-2zM496 532h2v8h-2zM498 532h2v8h-2zM500 531h2v9h-2zM502 531h2v9h-2zM504 531h2v9h-2zM506 530h2v10h-2zM508 530h2v10h-2zM510 530h2v10h-2zM512 528h2v12h-2zM514 527h2v13h-2zM516 526h2v14h-2zM518 525h2v15h-2zM520 524h2v16h-2zM522 523h2v17h-2zM524 523h2v17h-2zM526 523h2v17h-2zM528 523h2v17h-2zM530 523h2v17h-2zM532 524h2v16h-2zM534 524h2v16h-2zM536 526h2v14h-2zM538 527h2v13h-2zM540 529h2v11h-2zM542 530h2v10h-2zM544 532h2v8h-2zM546 534h2v6h-2zM548 536h2v4h-2zM550 537h2v3h-2zM552 539h2v1h-2zM554 538h2v2h-2zM556 538h2v2h-2zM558 538h2v2h-2zM560 537h2v3h-2zM562 537h2v3h-2zM564 536h2v4h-2zM566 535h2v5h-2zM568 535h2v5h-2zM570 534h2v6h-2zM572 533h2v7h-2zM574 533h2v7h-2zM576 533h2v7h-2zM578 533h2v7h-2zM580 534h2v6h-2zM582 538h2v2h-2zM584 540h2v2h-2zM586 540h2v6h-2zM588 540h2v10h-2zM590 540h2v12h-2zM592 540h2v13h-2zM594 540h2v14h-2zM596 540h2v16h-2zM598 540h2v16h-2zM600 540h2v16h-2zM602 540h2v16h-2zM604 540h2v16h-2zM606 540h2v16h-2zM608 540h2v16h-2zM610 540h2v15h-2zM612 540h2v14h-2zM614 540h2v14h-2zM616 540h2v13h-2zM618 540h2v12h-2zM620 540h2v11h-2zM622 540h2v9h-2zM624 540h2v8h-2zM626 540h2v6h-2zM628 540h2v4h-2zM630 540h2v4h-2zM632 540h2v4h-2zM634 540h2v4h-2zM636 540h2v4h-2zM638 540h2v5h-2zM640 540h2v6h-2zM642 540h2v7h-2zM644 540h2v4h-2zM646 540h2v1h-2zM648 539h2v1h-2zM650 538h2v2h-2zM652 536h2v4h-2zM654 535h2v5h-2zM656 534h2v6h-2zM658 533h2v7h-2zM660 533h2v7h-2zM662 532h2v8h-2zM664 532h2v8h-2zM666 532h2v8h-2zM668 532h2v8h-2zM670 533h2v7h-2zM672 533h2v7h-2zM674 533h2v7h-2zM676 534h2v6h-2zM678 533h2v7h-2zM680 532h2v8h-2zM682 532h2v8h-2zM684 531h2v9h-2zM686 531h2v9h-2zM688 530h2v10h-2zM690 531h2v9h-2zM692 532h2v8h-2zM694 533h2v7h-2zM696 534h2v6h-2zM698 535h2v5h-2zM700 537h2v3h-2zM702 538h2v2h-2zM704 539h2v1h-2zM710 539h2v1h-2zM712 538h2v2h-2zM714 537h2v3h-2zM716 536h2v4h-2zM718 535h2v5h-2zM720 536h2v4h-2zM722 536h2v4h-2zM724 537h2v3h-2zM726 538h2v2h-2zM728 539h2v1h-2zM732 540h2v2h-2zM734 540h2v4h-2zM736 540h2v6h-2zM738 540h2v6h-2zM740 540h2v6h-2zM742 540h2v7h-2zM744 540h2v7h-2zM746 540h2v8h-2zM748 540h2v8h-2zM750 540h2v10h-2zM752 540h2v11h-2zM754 540h2v13h-2zM756 540h2v14h-2zM758 540h2v16h-2zM760 540h2v18h-2zM762 540h2v19h-2zM764 540h2v20h-2zM766 540h2v21h-2zM768 540h2v23h-2zM770 540h2v22h-2zM772 540h2v22h-2zM774 540h2v22h-2zM776 540h2v22h-2zM778 540h2v22h-2zM780 540h2v22h-2zM782 540h2v21h-2zM784 540h2v20h-2zM786 540h2v20h-2zM788 540h2v19h-2zM790 540h2v19h-2zM792 540h2v18h-2zM794 540h2v18h-2zM796 540h2v17h-2zM798 540h2v17h-2zM800 540h2v16h-2zM802 540h2v16h-2zM804 540h2v15h-2zM806 540h2v15h-2zM808 540h2v14h-2zM810 540h2v14h-2zM812 540h2v13h-2zM814 540h2v12h-2zM816 540h2v10h-2zM818 540h2v9h-2zM820 540h2v7h-2zM822 540h2v6h-2zM824 540h2v4h-2zM826 540h2v3h-2zM828 540h2v2h-2zM832 539h2v1h-2zM834 536h2v4h-2zM836 533h2v7h-2zM838 528h2v12h-2zM840 523h2v17h-2zM842 521h2v19h-2zM844 518h2v22h-2zM846 516h2v24h-2zM848 513h2v27h-2zM850 512h2v28h-2zM852 511h2v29h-2zM854 510h2v30h-2zM856 509h2v31h-2zM858 508h2v32h-2zM860 508h2v32h-2zM862 508h2v32h-2zM864 507h2v33h-2zM866 507h2v33h-2zM868 508h2v32h-2zM870 509h2v31h-2zM872 510h2v30h-2zM874 511h2v29h-2zM876 512h2v28h-2zM878 513h2v27h-2zM880 515h2v25h-2zM882 516h2v24h-2zM884 517h2v23h-2zM886 518h2v22h-2zM888 518h2v22h-2zM890 519h2v21h-2zM892 519h2v21h-2zM894 521h2v19h-2zM896 524h2v16h-2zM898 526h2v14h-2zM900 532h2v8h-2zM904 540h2v2h-2zM906 540h2v4h-2zM908 540h2v6h-2zM910 540h2v8h-2zM912 540h2v10h-2zM914 540h2v11h-2zM916 540h2v12h-2zM918 540h2v13h-2zM920 540h2v13h-2zM922 540h2v13h-2zM924 540h2v13h-2zM926 540h2v12h-2zM928 540h2v10h-2z"/><polyline fill="none" stroke="#ff0000" stroke-width="1" points="4.0,549.5 6.0,548.4 8.0,547.2 10.0,546.0 12.0,544.9 14.0,543.8 16.0,542.8 18.0,541.8 20.0,540.9 22.0,539.9 24.0,539.0 26.0,538.2 28.0,537.4 30.0,536.8 32.0,536.4 34.0,536.1 36.0,536.2 38.0,536.5 40.0,537.0 42.0,537.7 44.0,538.6 46.0,539.6 48.0,540.9 50.0,542.3 52.0,543.8 54.0,545.7 56.0,547.7 58.0,549.9 60.0,552.1 62.0,554.1 64.0,555.8 66.0,557.5 68.0,559.1 70.0,560.5 72.0,561.8 74.0,562.8 76.0,563.5 78.0,563.7 80.0,563.4 82.0,562.7 84.0,561.7 86.0,560.4 88.0,558.8 90.0,556.9 92.0,554.8 94.0,552.4 96.0,549.7 98.0,547.0 100.0,544.6 102.0,542.7 104.0,541.2 106.0,539.9 108.0,538.8 110.0,538.0 112.0,537.3 114.0,537.0 116.0,537.0 118.0,537.3 120.0,538.0 122.0,539.1 124.0,540.5 126.0,541.8 128.0,542.9 130.0,544.0 132.0,545.1 134.0,546.1 136.0,547.0 138.0,547.9 140.0,548.7 142.0,549.4 144.0,550.1 146.0,550.8 148.0,551.2 150.0,551.5 152.0,551.4 154.0,550.8 156.0,549.9 158.0,548.8 160.0,547.7 162.0,546.4 164.0,545.0 166.0,543.9 168.0,543.4 170.0,543.4 172.0,543.8 174.0,544.2 176.0,544.7 178.0,545.2 180.0,545.8 182.0,546.4 184.0,546.9 186.0,547.4 188.0,547.7 190.0,547.9 192.0,548.1 194.0,548.3 196.0,548.4 198.0,548.5 200.0,548.6 202.0,548.7 204.0,548.7 206.0,548.8 208.0,548.9 210.0,548.9 212.0,548.8 214.0,548.7 216.0,548.4 218.0,548.0 220.0,547.3 222.0,546.5 224.0,545.5 226.0,544.6 228.0,543.7 230.0,542.7 232.0,541.7 234.0,540.7 236.0,539.8 238.0,539.0 240.0,538.2 242.0,537.5 244.0,536.9 246.0,536.4 248.0,535.9 250.0,535.6 252.0,535.4 254.0,535.2 256.0,535.2 258.0,535.2 260.0,535.4 262.0,535.6 264.0,536.1 266.0,536.8 268.0,537.6 270.0,538.3 272.0,538.8 274.0,539.1 276.0,539.3 278.0,539.3 280.0,539.2 282.0,538.8 284.0,538.1 286.0,537.0 288.0,535.8 290.0,534.6 292.0,533.6 294.0,532.6 296.0,531.7 298.0,530.9 300.0,530.5 302.0,530.5 304.0,530.9 306.0,531.5 308.0,532.4 310.0,533.7 312.0,535.3 314.0,536.9 316.0,538.4 318.0,539.6 320.0,540.8 322.0,541.8 324.0,542.8 326.0,543.7 328.0,544.5 330.0,545.3 332.0,546.1 334.0,546.7 336.0,547.2 338.0,547.5 340.0,547.7 342.0,547.8 344.0,547.7 346.0,547.7 348.0,547.5 350.0,547.3 352.0,547.0 354.0,546.7 356.0,546.3 358.0,545.8 360.0,545.1 362.0,544.3 364.0,543.4 366.0,542.3 368.0,541.0 370.0,539.6 372.0,538.4 374.0,537.4 376.0,536.5 378.0,535.8 380.0,535.1 382.0,534.6 384.0,534.3 386.0,534.4 388.0,534.7 390.0,535.0 392.0,535.0 394.0,534.6 396.0,533.8 398.0,532.5 400.0,530.7 402.0,528.5 404.0,525.8 406.0,522.6 408.0,519.3 410.0,516.0 412.0,512.4 414.0,508.7 416.0,505.3 418.0,502.4 420.0,499.8 422.0,497.6 424.0,495.8 426.0,494.4 428.0,493.7 430.0,493.7 432.0,494.4 434.0,495.7 436.0,497.3 438.0,499.0 440.0,500.8 442.0,502.8 444.0,504.8 446.0,506.9 448.0,508.9 450.0,510.7 452.0,512.4 454.0,514.0 456.0,515.6 458.0,517.2 460.0,518.8 462.0,520.6 464.0,522.7 466.0,524.8 468.0,526.8 470.0,528.5 472.0,529.9 474.0,531.0 476.0,532.0 478.0,532.9 480.0,533.6 482.0,534.2 484.0,534.7 486.0,535.1 488.0,535.4 490.0,535.6 492.0,535.6 494.0,535.5 496.0,535.2 498.0,534.8 500.0,534.4 502.0,533.8 504.0,533.3 506.0,532.7 508.0,532.1 510.0,531.5 512.0,530.7 514.0,529.9 516.0,529.2 518.0,528.4 520.0,527.5 522.0,526.6 524.0,525.7 526.0,524.9 528.0,524.2 530.0,523.6 532.0,523.2 534.0,523.1 536.0,523.3 538.0,523.9 540.0,525.0 542.0,526.4 544.0,527.9 546.0,529.4 548.0,530.8 550.0,532.3 552.0,533.9 554.0,535.4 556.0,536.8 558.0,537.9 560.0,538.6 562.0,538.8 564.0,538.8 566.0,538.6 568.0,538.2 570.0,537.8 572.0,537.4 574.0,536.6 576.0,535.6 578.0,534.9 580.0,534.6 582.0,535.3 584.0,537.0 586.0,539.3 588.0,541.7 590.0,543.8 592.0,545.9 594.0,548.0 596.0,549.9 598.0,551.5 600.0,553.0 602.0,554.3 604.0,555.2 606.0,555.7 608.0,555.9 610.0,555.8 612.0,555.5 614.0,555.0 616.0,554.3 618.0,553.5 620.0,552.4 622.0,551.2 624.0,550.0 626.0,548.9 628.0,547.7 630.0,546.4 632.0,545.1 634.0,543.9 636.0,543.0 638.0,542.6 640.0,542.7 642.0,543.0 644.0,543.4 646.0,543.7 648.0,543.7 650.0,543.3 652.0,542.5 654.0,541.4 656.0,540.2 658.0,539.1 660.0,538.2 662.0,537.1 664.0,536.1 666.0,535.2 668.0,534.6 670.0,534.2 672.0,534.0 674.0,534.0 676.0,534.0 678.0,534.1 680.0,534.1 682.0,534.1 684.0,533.8 686.0,533.3 688.0,532.7 690.0,532.2 692.0,531.8 694.0,531.7 696.0,532.0 698.0,532.6 700.0,533.6 702.0,534.6 704.0,535.4 706.0,536.2 708.0,537.1 710.0,537.9 712.0,538.5 714.0,538.8 716.0,538.7 718.0,538.4 720.0,537.9 722.0,537.4 724.0,537.0 726.0,536.8 728.0,536.8 730.0,537.3 732.0,538.2 734.0,539.4 736.0,540.6 738.0,541.6 740.0,542.5 742.0,543.4 744.0,544.3 746.0,545.2 748.0,546.0 750.0,546.8 752.0,547.4 754.0,547.8 756.0,548.2 758.0,548.7 760.0,549.5 762.0,550.7 764.0,552.3 766.0,554.0 768.0,555.5 770.0,556.9 772.0,558.4 774.0,559.7 776.0,560.7 778.0,561.4 780.0,561.8 782.0,562.0 784.0,562.0 786.0,561.9 788.0,561.6 790.0,561.3 792.0,560.9 794.0,560.4 796.0,560.0 798.0,559.5 800.0,559.0 802.0,558.5 804.0,558.0 806.0,557.4 808.0,556.8 810.0,556.1 812.0,555.4 814.0,554.6 816.0,553.6 818.0,552.6 820.0,551.5 822.0,550.4 824.0,549.3 826.0,548.1 828.0,546.9 830.0,545.6 832.0,544.3 834.0,542.9 836.0,541.3 838.0,539.5 840.0,537.6 842.0,535.5 844.0,533.4 846.0,531.1 848.0,528.8 850.0,526.3 852.0,523.8 854.0,521.3 856.0,519.0 858.0,516.8 860.0,514.7 862.0,512.9 864.0,511.4 866.0,510.3 868.0,509.6 870.0,509.2 872.0,508.9 874.0,508.8 876.0,509.0 878.0,509.4 880.0,510.3 882.0,511.7 884.0,513.4 886.0,515.1 888.0,516.4 890.0,517.5 892.0,518.5 894.0,519.5 896.0,520.9 898.0,522.7 900.0,524.9 902.0,527.6 904.0,530.3 906.0,533.1 908.0,536.2 910.0,539.4 912.0,542.3 914.0,544.7 916.0,546.8 918.0,548.6 920.0,550.1 922.0,551.2 924.0,551.9 926.0,552.3 928.0,552.7 928.0,552.7"/></g>
<g><polyline fill="none" stroke="#1e90ff" stroke-width="1" points="4.5,615.1 6.5,619.9 8.5,619.3 10.5,617.9 12.5,615.8 14.5,611.9 16.5,609.2 18.5,608.9 20.5,611.6 22.5,615.0 24.5,615.6 26.5,612.9 28.5,612.5 30.5,610.6 32.5,613.4 34.5,613.5 36.5,615.0 38.5,615.8 40.5,616.0 42.5,623.1 44.5,626.7 46.5,625.8 48.5,628.3 50.5,628.5 52.5,628.4 54.5,630.1 56.5,636.2 58.5,639.1 60.5,639.5 62.5,639.6 64.5,638.8 66.5,640.0 68.5,639.5 70.5,641.5 72.5,636.5 74.5,633.2 76.5,630.7 78.5,627.1 80.5,625.2 82.5,622.3 84.5,621.2 86.5,616.8 88.5,615.2 90.5,615.9 92.5,612.1 94.5,607.6 96.5,606.7 98.5,607.3 100.5,608.7 102.5,613.8 104.5,617.5 106.5,619.0 108.5,619.1 110.5,620.6 112.5,622.3 114.5,623.6 116.5,627.8 118.5,626.7 120.5,625.3 122.5,624.7 124.5,626.7 126.5,626.7 128.5,626.1 130.5,623.2 132.5,620.3 134.5,620.3 136.5,624.3 138.5,631.1 140.5,631.3 142.5,631.2 144.5,628.3 146.5,625.5 148.5,622.1 150.5,619.6 152.5,616.9 154.5,612.0 156.5,611.3 158.5,609.9 160.5,611.6 162.5,613.4 164.5,618.8 166.5,622.7 168.5,623.7 170.5,627.2 172.5,627.6 174.5,623.9 176.5,621.7 178.5,618.3 180.5,619.2 182.5,620.3 184.5,621.4 186.5,621.6 188.5,622.6 190.5,624.8 192.5,622.7 194.5,624.2 196.5,626.7 198.5,628.0 200.5,625.2 202.5,619.4 204.5,621.2 206.5,622.6 208.5,624.0 210.5,622.3 212.5,619.8 214.5,615.9 216.5,615.0 218.5,615.1 220.5,612.5 222.5,611.1 224.5,612.4 226.5,614.4 228.5,617.7 230.5,615.0 232.5,613.3 234.5,611.0 236.5,607.4 238.5,610.9 240.5,613.0 242.5,613.0 244.5,613.2 246.5,611.4 248.5,612.7 250.5,613.6 252.5,616.4 254.5,617.3 256.5,614.3 258.5,613.4 260.5,619.8 262.5,626.4 264.5,621.4 266.5,617.5 268.5,613.4 270.5,609.3 272.5,614.4 274.5,616.8 276.5,615.9 278.5,615.5 280.5,613.4 282.5,609.4 284.5,606.2 286.5,600.1 288.5,602.8 290.5,605.6 292.5,603.7 294.5,607.5 296.5,618.4 298.5,617.8 300.5,616.7 302.5,616.3 304.5,617.5 306.5,618.0 308.5,620.6 310.5,622.1 312.5,622.9 314.5,621.4 316.5,622.0 318.5,621.3 320.5,623.1 322.5,624.6 324.5,625.0 326.5,623.7 328.5,623.3 330.5,626.7 332.5,631.4 334.5,625.4 336.5,621.4 338.5,620.8 340.5,618.7 342.5,619.7 344.5,623.1 346.5,624.6 348.5,625.7 350.5,625.2 352.5,622.0 354.5,616.4 356.5,611.8 358.5,608.4 360.5,607.9 362.5,609.6 364.5,611.1 366.5,612.4 368.5,612.2 370.5,608.7 372.5,606.8 374.5,610.0 376.5,611.3 378.5,613.1 380.5,612.7 382.5,614.6 384.5,615.0 386.5,613.5 388.5,613.3 390.5,612.1 392.5,610.1 394.5,611.5 396.5,601.0 398.5,593.7 400.5,593.6 402.5,588.8 404.5,587.4 406.5,586.7 408.5,588.0 410.5,586.0 412.5,587.4 414.5,586.1 416.5,585.9 418.5,586.2 420.5,587.0 422.5,587.0 424.5,587.4 426.5,592.8 428.5,596.9 430.5,601.3 432.5,603.9 434.5,602.3 436.5,600.1 438.5,599.6 440.5,602.5 442.5,605.5 444.5,606.9 446.5,608.1 448.5,610.2 450.5,614.8 452.5,617.5 454.5,614.3 456.5,611.5 458.5,611.1 460.5,608.6 462.5,611.5 464.5,613.4 466.5,612.4 468.5,613.1 470.5,612.9 472.5,616.6 474.5,620.2 476.5,621.7 478.5,619.0 480.5,613.6 482.5,613.6 484.5,612.6 486.5,611.9 488.5,611.7 490.5,609.6 492.5,611.1 494.5,610.4 496.5,608.4 498.5,606.8 500.5,609.0 502.5,610.7 504.5,608.6 506.5,608.6 508.5,606.6 510.5,603.8 512.5,601.1 514.5,599.1 516.5,598.5 518.5,597.7 520.5,597.1 522.5,600.0 524.5,603.7 526.5,604.9 528.5,601.6 530.5,600.4 532.5,599.3 534.5,599.3 536.5,609.2 538.5,617.6 540.5,622.0 542.5,620.3 544.5,618.5 546.5,620.0 548.5,620.2 550.5,618.5 552.5,618.3 554.5,618.9 556.5,619.3 558.5,619.5 560.5,611.5 562.5,610.3 564.5,610.7 566.5,613.3 568.5,614.0 570.5,614.2 572.5,611.6 574.5,610.3 576.5,609.5 578.5,607.1 580.5,614.7 582.5,625.0 584.5,632.6 586.5,632.8 588.5,631.7 590.5,632.5 592.5,630.8 594.5,630.4 596.5,631.2 598.5,631.0 600.5,630.5 602.5,629.3 604.5,624.7 606.5,624.4 608.5,624.2 610.5,625.9 612.5,626.7 614.5,623.7 616.5,622.1 618.5,619.5 620.5,618.8 622.5,614.3 624.5,611.3 626.5,612.8 628.5,612.4 630.5,612.0 632.5,616.0 634.5,621.1 636.5,624.8 638.5,625.8 640.5,628.4 642.5,627.8 644.5,619.4 646.5,612.4 648.5,612.3 650.5,610.1 652.5,612.7 654.5,613.5 656.5,610.3 658.5,610.0 660.5,609.7 662.5,609.3 664.5,606.8 666.5,609.2 668.5,614.3 670.5,617.0 672.5,616.9 674.5,615.3 676.5,614.2 678.5,617.2 680.5,609.6 682.5,607.3 684.5,607.1 686.5,608.1 688.5,608.7 690.5,607.9 692.5,615.2 694.5,618.0 696.5,621.8 698.5,621.9 700.5,621.1 702.5,621.3 704.5,623.2 706.5,615.6 708.5,614.2 710.5,610.9 712.5,609.8 714.5,611.0 716.5,610.9 718.5,609.8 720.5,613.0 722.5,616.3 724.5,616.5 726.5,620.0 728.5,623.5 730.5,627.2 732.5,626.8 734.5,626.9 736.5,622.9 738.5,619.4 740.5,625.1 742.5,628.9 744.5,626.4 746.5,625.8 748.5,622.9 750.5,619.8 752.5,617.9 754.5,622.5 756.5,630.9 758.5,632.0 760.5,632.8 762.5,634.8 764.5,636.3 766.5,638.9 768.5,636.8 770.5,637.3 772.5,632.3 774.5,632.8 776.5,633.4 778.5,633.4 780.5,632.4 782.5,632.3 784.5,632.9 786.5,634.6 788.5,636.0 790.5,632.7 792.5,631.3 794.5,630.6 796.5,628.4 798.5,632.4 800.5,630.4 802.5,628.9 804.5,629.5 806.5,632.3 808.5,629.9 810.5,625.8 812.5,630.6 814.5,622.0 816.5,615.2 818.5,614.0 820.5,613.4 822.5,614.3 824.5,613.5 826.5,616.0 828.5,615.5 830.5,612.2 832.5,611.4 834.5,607.1 836.5,600.1 838.5,597.5 840.5,593.7 842.5,592.5 844.5,593.0 846.5,591.9 848.5,588.1 850.5,588.7 852.5,589.9 854.5,590.2 856.5,589.0 858.5,589.1 860.5,589.0 862.5,587.0 864.5,587.7 866.5,586.9 868.5,587.6 870.5,588.9 872.5,597.2 874.5,600.4 876.5,601.5 878.5,599.7 880.5,602.1 882.5,600.0 884.5,599.4 886.5,597.8 888.5,597.2 890.5,598.7 892.5,600.1 894.5,606.6 896.5,617.5 898.5,626.2 900.5,630.0 902.5,630.6 904.5,628.2 906.5,628.4 908.5,635.1 910.5,633.9 912.5,631.9 914.5,629.8 916.5,628.0 918.5,629.0 920.5,628.3 922.5,621.9 924.5,618.8 926.5,619.9 928.5,618.7"/></g>
</svg>

<!-- horizontal lines -->
<div class="hl" style="top:51px;background:#ff0000"></div>
<div class="hl" style="top:154px;background:#ff0000"></div>
<div class="hl" style="top:233px;background:#00ff00"></div>
<div class="hl" style="top:331px;background:#0000ff"></div>
<div class="hl" style="top:429px;background:#0000ff"></div>



<!-- end squares -->
<div class="sq" style="left:3px;top:152px;border-color:#ff0000"></div>
<div class="sq" style="left:1160px;top:152px;border-color:#ff0000"></div>
<div class="sq" style="left:3px;top:329px;border-color:#0000ff"></div>
<div class="sq" style="left:1160px;top:329px;border-color:#0000ff"></div>
<div class="sq" style="left:3px;top:427px;border-color:#0000ff"></div>
<div class="sq" style="left:1160px;top:427px;border-color:#0000ff"></div>

<!-- chart title -->
<div class="abs" style="left:7px;top:31px;width:0;height:0;border-left:4px solid transparent;border-right:4px solid transparent;border-bottom:4px solid #000"></div>
<span class="t" style="left:19px;top:29px;font-size:10px;line-height:10px;transform:scaleX(0.98);transform-origin:0 50%">USDCHF,H4</span><span class="t" style="left:80px;top:28px;font-size:10px;line-height:10px;transform:scaleX(0.923);transform-origin:0 50%;margin-top:1px">0.91498 0.91499 0.91498 0.91498</span>
<span class="t" style="left:8px;top:492px;font-size:10px;line-height:10px;transform:scaleX(0.927);transform-origin:0 50%">MACD(12,26,9) -0.001228 -0.001645</span>
<span class="t" style="left:8px;top:578px;font-size:10px;line-height:10px;transform:scaleX(0.92);transform-origin:0 50%">RSI(14) 47.4497</span>

<!-- one click trading widget -->
<div class="abs" style="left:7px;top:44px;width:219px;height:57px;">
  <div class="abs" style="left:-2px;top:0;width:221px;height:25px;background:#fff"></div>
  <!-- sell tab -->
  <div class="abs" style="left:0;top:0;width:50px;height:24px;border:1px solid #c01010;border-bottom:none;background:linear-gradient(#fb5252,#e53a3a)"></div>
  <!-- buy tab -->
  <div class="abs" style="left:168px;top:0;width:49px;height:24px;border:1px solid #c01010;border-bottom:none;background:linear-gradient(#fb5252,#e53a3a)"></div>
  <!-- sell price -->
  <div class="abs" style="left:0;top:24px;width:107px;height:32px;border:1px solid #b00808;border-top:none;background:linear-gradient(#e43838,#c41414 55%,#b00000)"></div>
  <!-- buy price -->
  <div class="abs" style="left:111px;top:24px;width:106px;height:32px;border:1px solid #b00808;border-top:none;background:linear-gradient(#e43838,#c41414 55%,#b00000)"></div>
  <div class="abs" style="left:4px;top:23px;width:44px;height:1px;background:#a01010"></div>
  <div class="abs" style="left:4px;top:24px;width:44px;height:1px;background:#f07070"></div>
  <div class="abs" style="left:171px;top:23px;width:44px;height:1px;background:#a01010"></div>
  <div class="abs" style="left:171px;top:24px;width:44px;height:1px;background:#f07070"></div>
  <span class="t" style="left:12px;top:5px;font-size:12px;line-height:14px;color:#fff;transform:scaleX(0.92);transform-origin:0 0">SELL</span>
  <span class="t" style="left:181px;top:5px;font-size:12px;line-height:14px;color:#fff;transform:scaleX(0.92);transform-origin:0 0">BUY</span>
  <!-- spinner -->
  <div class="abs" style="left:54px;top:0;width:110px;height:21px;border:1px solid #a8acb4;background:#fff"></div>
  <div class="abs" style="left:56px;top:2px;width:19px;height:19px;border:1px solid #b8bcc4;box-sizing:border-box;background:linear-gradient(#ececec,#e0e0e0 48%,#cfcfcf 52%,#d6d6d6)"></div>
  <div class="abs" style="left:144px;top:2px;width:20px;height:19px;border:1px solid #b8bcc4;box-sizing:border-box;background:linear-gradient(#ececec,#e0e0e0 48%,#cfcfcf 52%,#d6d6d6)"></div>
  <div class="abs" style="left:62px;top:9px;width:0;height:0;border-left:3px solid transparent;border-right:3px solid transparent;border-top:3px solid #4a5ab0"></div>
  <div class="abs" style="left:151px;top:9px;width:0;height:0;border-left:3px solid transparent;border-right:3px solid transparent;border-bottom:3px solid #4a5ab0"></div>
  <span class="t" style="left:100px;width:40px;text-align:right;top:3px;font-size:12px;line-height:14px;color:#000">3.00</span>
  <!-- prices -->
  <span class="t" style="left:20px;top:41px;font-size:12px;font-weight:bold;line-height:13px;color:#fff">0.91</span>
  <span class="t" style="left:48px;top:21px;font-size:34.5px;line-height:38px;color:#fff;letter-spacing:-3px">50</span>
  <span class="t" style="left:87px;top:26px;font-size:12px;font-weight:bold;line-height:12px;color:#fff">1</span>
  <span class="t" style="left:130px;top:41px;font-size:12px;font-weight:bold;line-height:13px;color:#fff">0.91</span>
  <span class="t" style="left:159px;top:21px;font-size:34.5px;line-height:38px;color:#fff;letter-spacing:-3px">51</span>
  <span class="t" style="left:198px;top:26px;font-size:12px;font-weight:bold;line-height:12px;color:#fff">1</span>
</div>

<!-- price axis -->
<div id="axis">
<div class="tick" style="top:85px"></div><span class="ax" style="top:80px">0.92430</span>
<div class="tick" style="top:118px"></div><span class="ax" style="top:113px">0.92160</span>
<div class="tick" style="top:151px"></div><span class="ax" style="top:146px">0.91890</span>
<div class="tick" style="top:184px"></div><span class="ax" style="top:179px">0.91615</span>
<div class="tick" style="top:217px"></div><span class="ax" style="top:212px">0.91345</span>
<div class="tick" style="top:250px"></div><span class="ax" style="top:245px">0.91075</span>
<div class="tick" style="top:283px"></div><span class="ax" style="top:278px">0.90805</span>
<div class="tick" style="top:316px"></div><span class="ax" style="top:311px">0.90535</span>
<div class="tick" style="top:349px"></div><span class="ax" style="top:344px">0.90265</span>
<div class="tick" style="top:382px"></div><span class="ax" style="top:377px">0.89990</span>
<div class="tick" style="top:415px"></div><span class="ax" style="top:410px">0.89720</span>
<div class="tick" style="top:448px"></div><span class="ax" style="top:443px">0.89450</span>
<div class="tick" style="top:481px"></div><span class="ax" style="top:476px">0.89180</span>
<span class="ax" style="top:489px;left:1170px">0.00647</span>
<div class="tick" style="top:540px"></div><span class="ax" style="top:535px;left:1171px">0.00</span>
<span class="ax" style="top:558px;left:1169px">-0.003916</span>
<span class="ax" style="top:575px;left:1170px">100</span>
<span class="ax" style="top:595px;left:1170px">70</span>
<span class="ax" style="top:628px;left:1170px">30</span>
<span class="ax" style="top:647px;left:1170px">0</span>
<div class="lab" style="top:46px;background:#ff0000"><span>0.92699</span></div>
<div class="lab" style="top:149px;background:#ff0000"><span>0.91855</span></div>
<div class="lab" style="top:194px;background:#000"><span>0.91498</span></div>
<div class="lab" style="top:228px;background:#00ff00"><span>0.91208</span></div>
<div class="lab" style="top:326px;background:#0000ff"><span>0.90405</span></div>
<div class="lab" style="top:424px;background:#0000ff"><span>0.89602</span></div>
</div>

<!-- date axis -->
<div class="dtick" style="left:4px"></div><span class="dt" style="left:3px">3 May 2021</span>
<div class="dtick" style="left:68px"></div><span class="dt" style="left:67px">10 May 19:00</span>
<div class="dtick" style="left:132px"></div><span class="dt" style="left:131px">18 May 00:00</span>
<div class="dtick" style="left:196px"></div><span class="dt" style="left:195px">25 May 10:00</span>
<div class="dtick" style="left:260px"></div><span class="dt" style="left:259px">1 Jun 18:00</span>
<div class="dtick" style="left:324px"></div><span class="dt" style="left:323px">9 Jun 00:00</span>
<div class="dtick" style="left:388px"></div><span class="dt" style="left:387px">16 Jun 10:00</span>
<div class="dtick" style="left:452px"></div><span class="dt" style="left:451px">23 Jun 18:00</span>
<div class="dtick" style="left:516px"></div><span class="dt" style="left:515px">1 Jul 00:00</span>
<div class="dtick" style="left:580px"></div><span class="dt" style="left:579px">8 Jul 10:00</span>
<div class="dtick" style="left:644px"></div><span class="dt" style="left:643px">15 Jul 18:00</span>
<div class="dtick" style="left:708px"></div><span class="dt" style="left:707px">23 Jul 00:00</span>
<div class="dtick" style="left:772px"></div><span class="dt" style="left:771px">30 Jul 10:00</span>
<div class="dtick" style="left:836px"></div><span class="dt" style="left:835px">6 Aug 18:00</span>
<div class="dtick" style="left:900px"></div><span class="dt" style="left:899px">14 Aug 00:00</span>

<!-- bottom tab bar -->
<div class="abs" style="left:0;top:680px;width:1208px;height:1px;background:#e6e6e6"></div>
<div class="abs" style="left:0;top:683px;width:1208px;height:18px;background:#f0f0f0"></div>
<div class="abs" style="left:0;top:701px;width:1208px;height:4px;background:#f0f0f0"></div><div class="abs" style="left:0;top:702px;width:1208px;height:1px;background:#fcfcfc"></div>
<div class="abs" style="left:0;top:682px;width:1208px;height:1px;background:#000"></div>
<div class="abs" style="left:0;top:683px;width:1px;height:18px;background:#000"></div>
<div class="abs" style="left:201px;top:682px;width:86px;height:18px;background:#fff;border:1px solid #000;border-top:none"></div>
<span class="tab" style="left:17px">EURUSD,H4</span><div class="sep" style="left:97px"></div>
<span class="tab" style="left:108px">AUDUSD,Daily</span>
<span class="tab" style="left:212px;color:#000">USDCHF,H4</span>
<span class="tab" style="left:301px">USDCAD,Daily</span><div class="sep" style="left:393px"></div>
<span class="tab" style="left:404px">USDCNH,Daily</span><div class="sep" style="left:497px"></div>
<span class="tab" style="left:509px">UKOil,H1</span><div class="sep" style="left:572px"></div>
<span class="tab" style="left:584px">DJ30,H1</span><div class="sep" style="left:641px"></div>
<span class="tab" style="left:653px">USDX,H1</span><div class="sep" style="left:716px"></div>
<span class="tab" style="left:728px">XAUUSD,H1</span><div class="sep" style="left:808px"></div>
<span class="tab" style="left:821px">GBPUSD,H1</span><div class="sep" style="left:900px"></div>
<div class="abs" style="left:1182px;top:688px;width:0;height:0;border-top:3px solid transparent;border-bottom:3px solid transparent;border-right:3.5px solid #8a8a8a"></div>
<div class="abs" style="left:1201px;top:688px;width:0;height:0;border-top:3px solid transparent;border-bottom:3px solid transparent;border-left:3.5px solid #8a8a8a"></div>
</body></html>
